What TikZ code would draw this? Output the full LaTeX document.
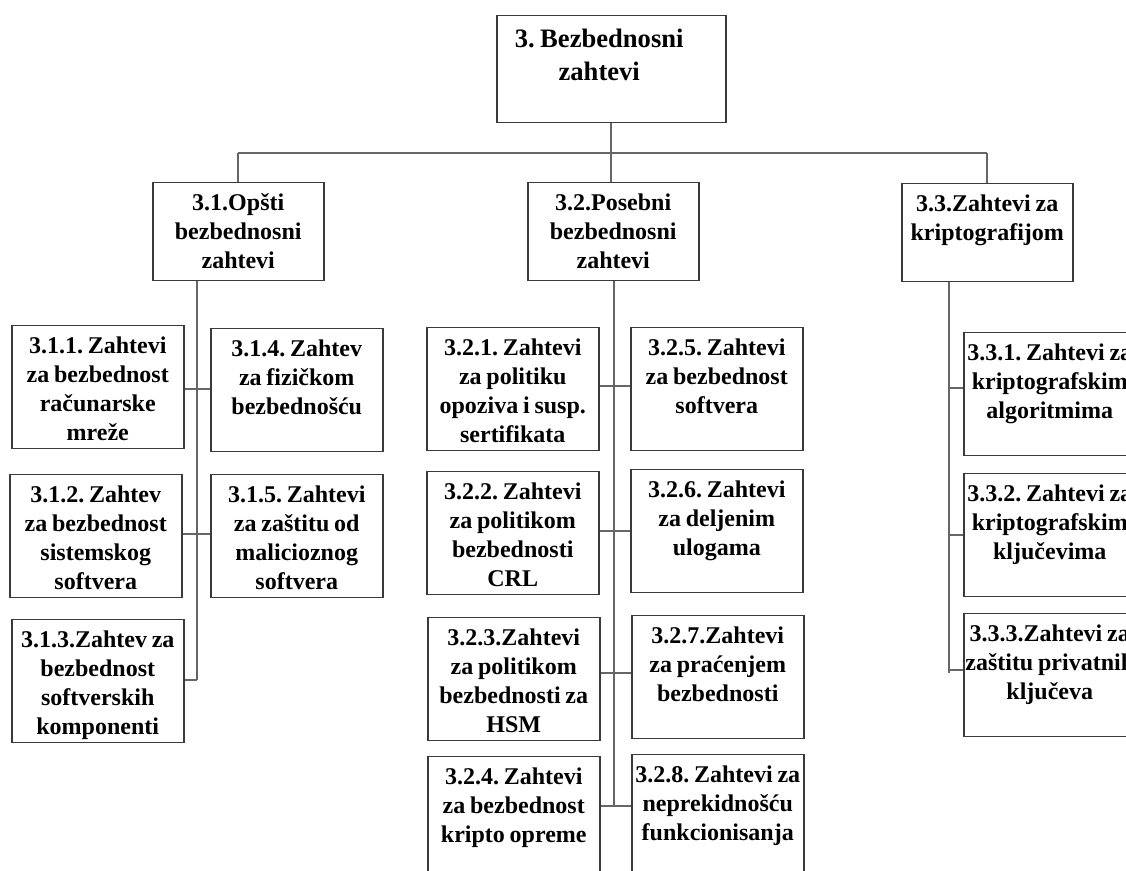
\documentclass[tikz,border=0pt]{standalone}
\usepackage{fontspec}
\setmainfont{Liberation Serif}
\begin{document}
\begin{tikzpicture}[x=0.5pt,y=-0.5pt,
  boxline/.style={draw=boxc, line width=0.75pt, inner sep=0pt, align=center,
    anchor=north west, fill=white,
    execute at begin node={\frenchspacing\hyphenpenalty=10000\exhyphenpenalty=10000\spaceskip=0.2em\relax}},
  topbox/.style={boxline, text width=114.5pt, text height=16pt, text depth=37.5pt,
    font=\fontsize{13.3}{16.5}\selectfont\bfseries},
  midbox/.style={boxline, text width=85.5pt, text height=14pt, text depth=35pt,
    font=\fontsize{12}{14.5}\selectfont\bfseries},
  leafbox/.style={boxline, text width=86pt, text height=14pt, text depth=47.5pt,
    font=\fontsize{12}{14.5}\selectfont\bfseries},
  link/.style={draw=linkc, line width=0.9pt}]
\definecolor{boxc}{HTML}{3A3A3A}
\definecolor{linkc}{HTML}{666666}
\useasboundingbox (0,0) rectangle (1126,871);
\clip (0,0) rectangle (1126,871);
\fill[white] (0,0) rectangle (1126,871);

% root and second level (root caption sits a little left of centre)
\node[topbox] (root) at (496,15) {3. Bezbednosni\hspace{12pt}\mbox{}\\zahtevi\hspace{12pt}\mbox{}};
\node[midbox] (b31) at (152,182) {3.1.Opšti\\bezbednosni\\zahtevi};
\node[midbox] (b32) at (527,182) {3.2.Posebni\\bezbednosni\\zahtevi};
\node[midbox] (b33) at (901,183) {3.3.Zahtevi za\\kriptografijom};

% branch 3.1
\node[leafbox] (b311) at (11,325) {3.1.1. Zahtevi\\za bezbednost\\računarske\\mreže};
\node[leafbox] (b314) at (210,328) {3.1.4. Zahtev\\za fizičkom\\bezbednošću};
\node[leafbox] (b312) at (9,474) {3.1.2. Zahtev\\za bezbednost\\sistemskog\\softvera};
\node[leafbox] (b315) at (210,474) {3.1.5. Zahtevi\\za zaštitu od\\malicioznog\\softvera};
\node[leafbox] (b313) at (11,619) {3.1.3.Zahtev za\\bezbednost\\softverskih\\komponenti};

% branch 3.2
\node[leafbox] (b321) at (426,327) {3.2.1. Zahtevi\\za politiku\\opoziva i susp.\\sertifikata};
\node[leafbox] (b325) at (630,327) {3.2.5. Zahtevi\\za bezbednost\\softvera};
\node[leafbox] (b322) at (426,471) {3.2.2. Zahtevi\\za politikom\\bezbednosti\\CRL};
\node[leafbox] (b326) at (630,469) {3.2.6. Zahtevi\\za deljenim\\ulogama};
\node[leafbox] (b323) at (427,617) {3.2.3.Zahtevi\\za politikom\\bezbednosti za\\HSM};
\node[leafbox] (b327) at (631,615) {3.2.7.Zahtevi\\za praćenjem\\bezbednosti};
\node[leafbox] (b324) at (427,756) {3.2.4. Zahtevi\\za bezbednost\\kripto opreme};
\node[leafbox] (b328) at (631,754) {3.2.8. Zahtevi za\\neprekidnošću\\funkcionisanja};

% branch 3.3
\node[leafbox] (b331) at (963,332) {3.3.1. Zahtevi za\\kriptografskim\\algoritmima};
\node[leafbox] (b332) at (963,473) {3.3.2. Zahtevi za\\kriptografskim\\ključevima};
\node[leafbox] (b333) at (963,613) {3.3.3.Zahtevi za\\zaštitu privatnih\\ključeva};

% top bus
\coordinate (bus) at (610,153);
\draw[link] (root.south) -- (root.south |- bus);
\draw[link] (b31.north |- bus) -- (b33.north |- bus);
\draw[link] (b31.north |- bus) -- (b31.north);
\draw[link] (root.south |- bus) -- (b32.north -| root.south);
\draw[link] (b33.north |- bus) -- (b33.north);

% trunk of 3.1
\coordinate (a1) at (197,389);
\coordinate (a2) at (197,534);
\coordinate (a3) at (197,680);
\draw[link] (b31.south -| a1) -- (a3);
\draw[link] (b311.east |- a1) -- (b314.west |- a1);
\draw[link] (b312.east |- a2) -- (b315.west |- a2);
\draw[link] (b313.east |- a3) -- (a3);

% trunk of 3.2
\coordinate (c1) at (614,386);
\coordinate (c2) at (614,531);
\coordinate (c3) at (614,673);
\coordinate (c4) at (614,806);
\draw[link] (b32.south -| c1) -- (c4);
\draw[link] (b321.east |- c1) -- (b325.west |- c1);
\draw[link] (b322.east |- c2) -- (b326.west |- c2);
\draw[link] (b323.east |- c3) -- (b327.west |- c3);
\draw[link] (b324.east |- c4) -- (b328.west |- c4);

% trunk of 3.3
\coordinate (d1) at (949,388);
\coordinate (d2) at (949,535);
\coordinate (d3) at (949,670);
\draw[link] (b33.south -| d1) -- (949,673);
\draw[link] (d1) -- (b331.west |- d1);
\draw[link] (d2) -- (b332.west |- d2);
\draw[link] (d3) -- (b333.west |- d3);
\end{tikzpicture}
\end{document}
